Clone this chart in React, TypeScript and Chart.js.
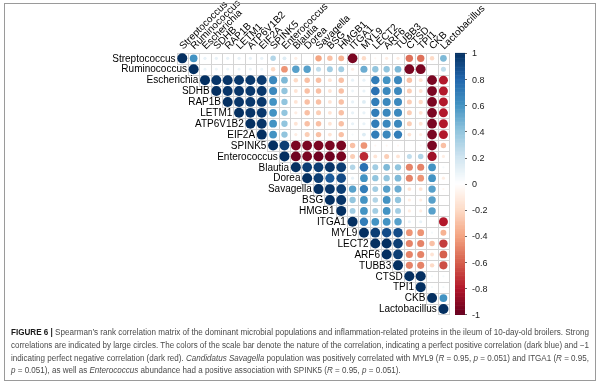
import React, { useEffect, useRef } from "react";
import { Chart, registerables } from "chart.js";
Chart.register(...registerables);

const variables = ["Streptococcus","Ruminococcus","Escherichia","SDHB","RAP1B","LETM1","ATP6V1B2","EIF2A","SPINK5","Enterococcus","Blautia","Dorea","Savagella","BSG","HMGB1","ITGA1","MYL9","LECT2","ARF6","TUBB3","CTSD","TPI1","CKB","Lactobacillus"];

// upper-triangle rows, each starting at the diagonal
const rowStreptococcus = [1, 0.6, 0.1, 0.1, 0.1, 0.1, 0.1, 0.1, 0.3, 0.15, -0.1, 0, -0.4, -0.3, -0.35, -0.95, -0.2, -0.05, -0.1, -0.1, -0.55, -0.55, -0.2, 0.45];
const rowRuminococcus = [1, 0.08, 0.08, 0.08, 0.08, 0.08, 0.08, -0.2, -0.45, 0.55, 0.55, 0.25, 0.35, 0.35, -0.1, 0.5, 0.4, 0.4, 0.45, -0.95, -0.95, 0, 0.25];
const rowEscherichia = [1, 0.98, 0.98, 0.97, 0.97, 0.96, 0.65, 0.45, -0.2, -0.3, -0.3, -0.15, -0.3, 0.1, 0.1, 0.7, 0.6, 0.65, -0.3, -0.15, -0.95, -0.8];
const rowSDHB = [1, 0.98, 0.98, 0.97, 0.97, 0.65, 0.4, -0.15, -0.3, -0.3, -0.15, -0.3, 0.08, 0.1, 0.75, 0.65, 0.65, -0.25, -0.15, -0.95, -0.8];
const rowRAP1B = [1, 0.98, 0.97, 0.97, 0.6, 0.4, -0.15, -0.3, -0.3, -0.15, -0.3, 0.1, 0.15, 0.7, 0.65, 0.65, -0.25, -0.2, -0.95, -0.8];
const rowLETM1 = [1, 0.98, 0.97, 0.6, 0.4, -0.1, -0.3, -0.25, -0.15, -0.3, 0.1, 0.1, 0.7, 0.65, 0.65, -0.25, -0.15, -0.95, -0.8];
const rowATP6V1B2 = [1, 0.98, 0.6, 0.4, -0.15, -0.3, -0.3, -0.15, -0.3, 0.1, 0.1, 0.7, 0.65, 0.65, -0.25, -0.15, -0.95, -0.8];
const rowEIF2A = [1, 0.6, 0.4, -0.1, -0.25, -0.3, -0.15, -0.3, 0.05, 0.15, 0.7, 0.65, 0.7, -0.15, -0.1, -0.95, -0.8];
const rowSPINK5 = [1, 0.95, -0.95, -0.95, -0.95, -0.95, -0.95, -0.3, -0.45, -0.05, -0.05, -0.05, 0, -0.05, -0.95, -0.3];
const rowEnterococcus = [1, -0.98, -0.95, -0.98, -0.98, -0.95, -0.25, -0.75, -0.15, -0.25, -0.15, 0.25, 0.3, -0.85, -0.1];
const rowBlautia = [1, 0.95, 0.95, 0.98, 0.95, 0.3, 0.75, 0.35, 0.45, 0.4, -0.5, -0.5, 0.6, 0.05];
const rowDorea = [1, 0.95, 0.85, 0.9, 0.1, 0.6, 0.4, 0.4, 0.45, -0.5, -0.45, 0.6, -0.1];
const rowSavagella = [1, 0.98, 0.95, 0.55, 0.7, 0.35, 0.55, 0.5, -0.15, -0.15, 0.55, -0.05];
const rowBSG = [1, 0.98, 0.4, 0.6, 0.3, 0.6, 0.4, -0.1, -0.1, 0.55, 0];
const rowHMGB1 = [1, 0.35, 0.6, 0.35, 0.6, 0.35, -0.1, -0.1, 0.55, 0];
const rowITGA1 = [1, 0.7, 0.6, 0.6, 0.55, 0.1, 0.1, 0, -0.8];
const rowMYL9 = [1, 0.95, 0.9, 0.9, -0.45, -0.45, 0.05, -0.35];
const rowLECT2 = [1, 1, 0.95, -0.5, -0.5, -0.3, -0.7];
const rowARF6 = [1, 0.95, -0.5, -0.5, -0.15, -0.6];
const rowTUBB3 = [1, -0.5, -0.5, -0.2, -0.65];
const rowCTSD = [1, 1, 0.05, 0.05];
const rowTPI1 = [1, 0.05, 0.05];
const rowCKB = [1, 0.6];
const rowLactobacillus = [1];

const rows = [rowStreptococcus, rowRuminococcus, rowEscherichia, rowSDHB, rowRAP1B, rowLETM1, rowATP6V1B2, rowEIF2A, rowSPINK5, rowEnterococcus, rowBlautia, rowDorea, rowSavagella, rowBSG, rowHMGB1, rowITGA1, rowMYL9, rowLECT2, rowARF6, rowTUBB3, rowCTSD, rowTPI1, rowCKB, rowLactobacillus];

const legendTicks = [1, 0.8, 0.6, 0.4, 0.2, 0, -0.2, -0.4, -0.6, -0.8, -1];

const CMAP = ["#67001F","#B2182B","#D6604D","#F4A582","#FDDBC7","#FFFFFF","#D1E5F0","#92C5DE","#4393C3","#2166AC","#053061"];
const MAX_RADIUS = 5;

function hexToRgb(h: string) {
  return [parseInt(h.slice(1, 3), 16), parseInt(h.slice(3, 5), 16), parseInt(h.slice(5, 7), 16)];
}
function colorFor(v: number) {
  const t = Math.max(0, Math.min(10, ((v + 1) / 2) * 10));
  const k = Math.min(9, Math.floor(t));
  const f = t - k;
  const a = hexToRgb(CMAP[k]);
  const b = hexToRgb(CMAP[k + 1]);
  const c = a.map((x, i) => Math.round(x + (b[i] - x) * f));
  return `rgb(${c[0]},${c[1]},${c[2]})`;
}

type Seg = { t: string; b?: boolean; i?: boolean };
const captionLines: Seg[][] = [
  [{ t: "FIGURE 6 | ", b: true }, { t: "Spearman’s rank correlation matrix of the dominant microbial populations and inflammation-related proteins in the ileum of 10-day-old broilers. Strong" }],
  [{ t: "correlations are indicated by large circles. The colors of the scale bar denote the nature of the correlation, indicating a perfect positive correlation (dark blue) and −1" }],
  [{ t: "indicating perfect negative correlation (dark red). " }, { t: "Candidatus Savagella", i: true }, { t: " population was positively correlated with MYL9 (" }, { t: "R", i: true }, { t: " = 0.95, " }, { t: "p", i: true }, { t: " = 0.051) and ITGA1 (" }, { t: "R", i: true }, { t: " = 0.95," }],
  [{ t: "p", i: true }, { t: " = 0.051), as well as " }, { t: "Enterococcus", i: true }, { t: " abundance had a positive association with SPINK5 (" }, { t: "R", i: true }, { t: " = 0.95, " }, { t: "p", i: true }, { t: " = 0.051)." }],
];

const FONT = '"Liberation Sans", Arial, sans-serif';

export default function App() {
  const ref = useRef<HTMLCanvasElement>(null);
  useEffect(() => {
    document.body.style.margin = "0";
    const points: any[] = [];
    rows.forEach((row, i) =>
      row.forEach((v, k) => {
        if (v !== 0) points.push({ x: i + k, y: i, v, r: MAX_RADIUS * Math.sqrt(Math.abs(v)) });
      })
    );

    const deco = {
      id: "deco",
      beforeDraw(chart: any) {
        const ctx = chart.ctx;
        ctx.save();
        ctx.fillStyle = "#fff";
        ctx.fillRect(0, 0, chart.width, chart.height);
        ctx.restore();
      },
      beforeDatasetsDraw(chart: any) {
        const ctx = chart.ctx;
        const xs = chart.scales.x, ys = chart.scales.y;
        ctx.save();
        ctx.strokeStyle = "#d4d4d4";
        ctx.lineWidth = 1;
        const n = variables.length;
        for (let i = 0; i < n; i++) {
          for (let j = i; j < n; j++) {
            const x0 = Math.round(xs.getPixelForValue(j - 0.5)) + 0.5;
            const x1 = Math.round(xs.getPixelForValue(j + 0.5)) + 0.5;
            const y0 = Math.round(ys.getPixelForValue(i - 0.5)) + 0.5;
            const y1 = Math.round(ys.getPixelForValue(i + 0.5)) + 0.5;
            ctx.strokeRect(x0, y0, x1 - x0, y1 - y0);
          }
        }
        ctx.restore();
      },
      afterDraw(chart: any) {
        const ctx = chart.ctx;
        const xs = chart.scales.x, ys = chart.scales.y;
        const area = chart.chartArea;
        ctx.save();
        // row labels
        ctx.fillStyle = "#000";
        ctx.font = `10px ${FONT}`;
        ctx.textAlign = "right";
        ctx.textBaseline = "middle";
        variables.forEach((name, i) => {
          ctx.fillText(name, xs.getPixelForValue(i - 0.5) - 1, ys.getPixelForValue(i) + 0.5);
        });
        // column labels
        ctx.textAlign = "left";
        ctx.textBaseline = "middle";
        variables.forEach((name, j) => {
          ctx.save();
          ctx.translate(xs.getPixelForValue(j) - 1, area.top - 5);
          ctx.rotate(-Math.PI / 4);
          ctx.fillText(name, 0, 0);
          ctx.restore();
        });
        // color bar
        const bx = 455, bw = 10;
        const top = area.top, bot = area.bottom;
        const steps = 200;
        for (let s = 0; s < steps; s++) {
          const v = 1 - (2 * (s + 0.5)) / steps;
          const y0 = top + ((bot - top) * s) / steps;
          const y1 = top + ((bot - top) * (s + 1)) / steps;
          ctx.fillStyle = colorFor(v);
          ctx.fillRect(bx, y0, bw, y1 - y0 + 0.6);
        }
        ctx.fillStyle = "#222";
        ctx.strokeStyle = "#666";
        ctx.font = `9px ${FONT}`;
        ctx.textAlign = "left";
        ctx.textBaseline = "middle";
        legendTicks.forEach((t) => {
          const y = top + ((1 - t) / 2) * (bot - top);
          ctx.beginPath();
          ctx.moveTo(bx + bw, Math.round(y) + 0.5);
          ctx.lineTo(bx + bw + 2, Math.round(y) + 0.5);
          ctx.stroke();
          const label = t === 0 ? "0" : String(t);
          ctx.fillText(label, 472, y + 1);
        });
        // caption
        const size = 8.5;
        const fontFor = (s: Seg) => `${s.i ? "italic " : ""}${s.b ? "bold " : ""}${size}px ${FONT}`;
        const widthOf = (line: Seg[]) => line.reduce((w, s) => { ctx.font = fontFor(s); return w + ctx.measureText(s.t).width; }, 0);
        const cx0 = 11, cx1 = 589;
        const scales = captionLines.slice(0, 3).map((l) => (cx1 - cx0) / widthOf(l));
        const avg = scales.reduce((a, b) => a + b, 0) / scales.length;
        const lineYs = [333, 346, 358.5, 371];
        captionLines.forEach((line, li) => {
          const sx = li < 3 ? scales[li] : avg;
          ctx.save();
          ctx.translate(cx0, lineYs[li]);
          ctx.scale(sx, 1);
          let x = 0;
          line.forEach((s) => {
            ctx.font = fontFor(s);
            ctx.fillStyle = s.b ? "#1a1a1a" : "#4a4a4a";
            ctx.textAlign = "left";
            ctx.textBaseline = "middle";
            ctx.fillText(s.t, x, 0);
            x += ctx.measureText(s.t).width;
          });
          ctx.restore();
        });
        // outer border
        ctx.strokeStyle = "#9a9a9a";
        ctx.lineWidth = 1;
        ctx.strokeRect(4.5, 3.5, 591, 377);
        ctx.restore();
      },
    };

    const chart = new Chart(ref.current as HTMLCanvasElement, {
      type: "bubble",
      data: {
        datasets: [
          {
            data: points,
            borderWidth: 0,
            backgroundColor: (c: any) => colorFor(c.raw ? c.raw.v : 0),
            hoverRadius: 0,
          } as any,
        ],
      },
      options: {
        animation: false,
        responsive: false,
        events: [],
        layout: { padding: { left: 176.6, right: 150.9, top: 52.9, bottom: 70.6 } },
        scales: {
          x: { type: "linear", min: -0.5, max: 23.5, display: false },
          y: { type: "linear", min: -0.5, max: 23.5, reverse: true, display: false },
        },
        plugins: { legend: { display: false }, tooltip: { enabled: false } },
      },
      plugins: [deco],
    });
    return () => chart.destroy();
  }, []);
  return (
    <div style={{ width: 600, height: 385 }}>
      <canvas ref={ref} width={600} height={385} style={{ display: "block" }} />
    </div>
  );
}
